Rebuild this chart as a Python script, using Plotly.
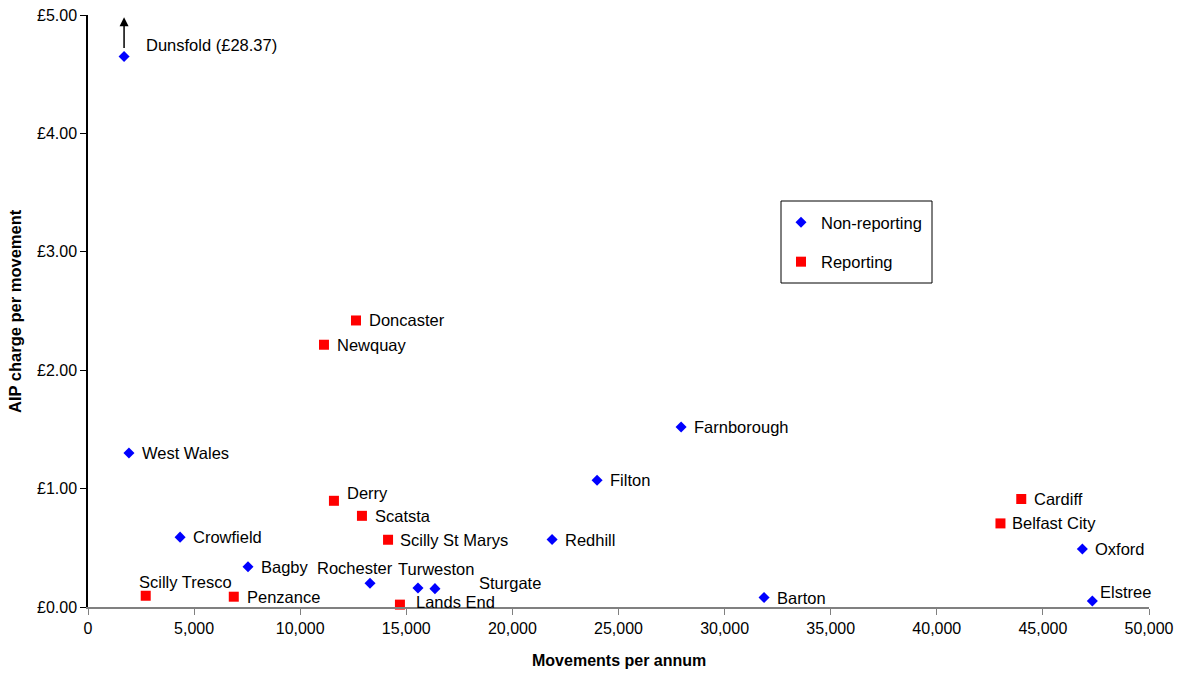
import plotly.graph_objects as go

# Non-reporting airports
nr_names = ["Dunsfold", "West Wales", "Crowfield", "Bagby", "Rochester", "Turweston",
            "Sturgate", "Redhill", "Filton", "Farnborough", "Barton", "Oxford", "Elstree"]
nr_movements = [1700, 1930, 4340, 7540, 13290, 15550, 16350, 21870, 23990, 27950, 31860, 46860, 47330]
nr_charge = [28.37, 1.30, 0.59, 0.34, 0.20, 0.16, 0.155, 0.57, 1.07, 1.52, 0.08, 0.49, 0.05]

# Reporting airports
r_names = ["Scilly Tresco", "Penzance", "Newquay", "Derry", "Doncaster", "Scatsta",
           "Scilly St Marys", "Lands End", "Belfast City", "Cardiff"]
r_movements = [2720, 6870, 11120, 11590, 12630, 12910, 14140, 14700, 43000, 43980]
r_charge = [0.095, 0.087, 2.215, 0.897, 2.42, 0.77, 0.568, 0.02, 0.706, 0.912]

# Values above this are drawn at the cap with an upward arrow
Y_CAP = 4.65
Y_MAX = 5.0

FONT = "Arial, Liberation Sans, sans-serif"

# plot area margins (px)
M_L, M_R, M_T, M_B = 88, 36, 15, 66
PLOT_W = 1185 - M_L - M_R
PLOT_H = 673 - M_T - M_B


def px_x(p):
    return (p - M_L) / PLOT_W


def px_y(p):
    return (673 - M_B - p) / PLOT_H


# label offsets in pixels (xshift, yshift); default is to the right of the marker
label_offsets = {
    "Dunsfold": (20, 11),
    "Derry": (11, 8),
    "Rochester": (-55, 15),
    "Turweston": (-22, 19),
    "Sturgate": (42, 6),
    "Lands End": (14, 3),
    "Scilly Tresco": (-9, 14),
    "Elstree": (6, 9),
    "Belfast City": (10, 0),
    "Scilly St Marys": (10, 0),
}


def shown(v):
    return min(v, Y_CAP)


fig = go.Figure()
fig.add_trace(go.Scatter(
    x=nr_movements, y=[shown(v) for v in nr_charge], mode="markers",
    name="Non-reporting", legendgroup="a",
    marker=dict(symbol="diamond", size=8.5, color="#0000FF"),
    cliponaxis=False,
))
fig.add_trace(go.Scatter(
    x=r_movements, y=[shown(v) for v in r_charge], mode="markers",
    name="Reporting", legendgroup="b",
    marker=dict(symbol="square", size=10, color="#FF0000"),
    cliponaxis=False,
))

annotations = []
for names, xs, ys in [(nr_names, nr_movements, nr_charge), (r_names, r_movements, r_charge)]:
    for n, x, v in zip(names, xs, ys):
        dx, dy = label_offsets.get(n, (11, 0))
        text = f"{n} (£{v:.2f})" if v > Y_CAP else n
        annotations.append(dict(
            x=x, y=shown(v), xref="x", yref="y", text=text, showarrow=False,
            xanchor="left", yanchor="middle", xshift=dx, yshift=dy,
            font=dict(family=FONT, size=16.5, color="#000000"),
        ))
        if v > Y_CAP:
            annotations.append(dict(
                x=x, y=Y_MAX - 0.02, xref="x", yref="y",
                ax=x, ay=shown(v), axref="x", ayref="y",
                text="", showarrow=True, arrowhead=2, arrowsize=1.2,
                arrowwidth=1.5, arrowcolor="#000000", startstandoff=7, standoff=0,
            ))

# axis titles
annotations.append(dict(
    x=0.5, y=0, xref="paper", yref="paper", yshift=-53, xanchor="center", yanchor="middle",
    text="<b>Movements per annum</b>", showarrow=False,
    font=dict(family=FONT, size=16, color="#000000"),
))
annotations.append(dict(
    x=0, y=0.5, xref="paper", yref="paper", xshift=-73, xanchor="center", yanchor="middle",
    text="<b>AIP charge per movement</b>", textangle=-90, showarrow=False,
    font=dict(family=FONT, size=16.5, color="#000000"),
))

# legend frame
shapes = [dict(
    type="rect", xref="paper", yref="paper",
    x0=px_x(781), x1=px_x(932), y0=px_y(283), y1=px_y(201),
    line=dict(color="#000000", width=1), fillcolor="white", layer="below",
)]

fig.update_layout(
    width=1185, height=673,
    margin=dict(l=M_L, r=M_R, t=M_T, b=M_B),
    paper_bgcolor="white", plot_bgcolor="white",
    font=dict(family=FONT, size=16, color="#000000"),
    showlegend=True,
    legend=dict(
        x=px_x(781), y=px_y(205), xanchor="left", yanchor="top",
        borderwidth=0, bgcolor="rgba(0,0,0,0)",
        tracegroupgap=15, traceorder="grouped",
        font=dict(family=FONT, size=16.5),
    ),
    annotations=annotations,
    shapes=shapes,
    xaxis=dict(
        range=[0, 50000], dtick=5000, tickformat=",", showgrid=False, zeroline=False,
        showline=True, linecolor="#808080", linewidth=1.5,
        ticks="outside", ticklen=6, tickcolor="#808080",
        tickfont=dict(family=FONT, size=16), automargin=False,
    ),
    yaxis=dict(
        range=[0, Y_MAX], dtick=1, tickprefix="£", tickformat=".2f", showgrid=False,
        zeroline=False, showline=True, linecolor="#000000", linewidth=1.5,
        ticks="outside", ticklen=6, tickcolor="#000000",
        tickfont=dict(family=FONT, size=16), automargin=False,
    ),
)

fig.write_html("out.html")
